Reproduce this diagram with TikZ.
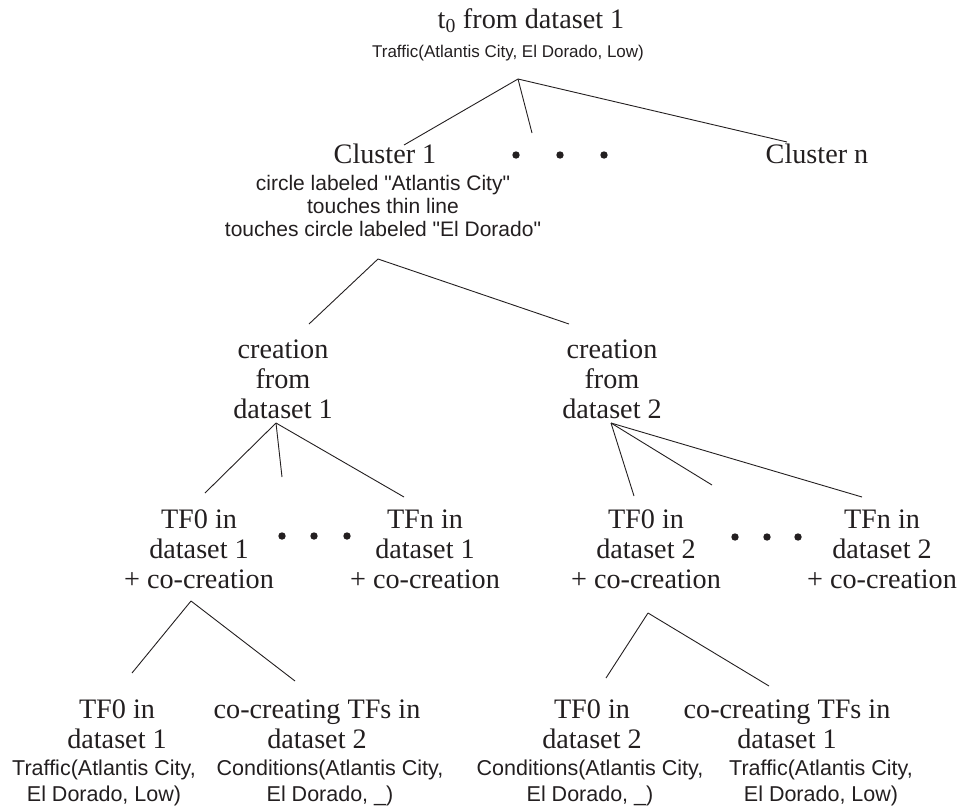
\documentclass[tikz,border=0pt]{standalone}
\usepackage{fontspec}
\setmainfont{Liberation Serif}
\setsansfont{Liberation Sans}
\usetikzlibrary{positioning}
\definecolor{InkGray}{RGB}{35,31,32}
\newcommand{\bigserif}{\fontsize{28.2}{29.7}\selectfont}
\newcommand{\qq}{\textquotedbl}
\newcommand{\treeline}[2]{%
  \draw[InkGray,line width=0.9pt] (#1)--(#2);}

\begin{document}
\begin{tikzpicture}[x=1pt,y=-1pt,
  serif text/.style={font=\bigserif,text=InkGray,align=center,inner sep=0pt,anchor=base},
  fact/.style 2 args={font=\fontsize{#1}{#2}\selectfont\sffamily,text=InkGray,align=center,inner sep=0pt,anchor=base},
  dot/.style={circle,fill=InkGray,inner sep=0pt,minimum size=7.4pt}]
  \useasboundingbox (0,0) rectangle (966,809);
  % root
  \node[serif text] (root) at (531,28) {t\textsubscript{0} from dataset 1};
  \node[fact={17}{20}] (rootfact) at (508,57) {Traffic(Atlantis City, El Dorado, Low)};
  % clusters
  \node[serif text] (cl1) at (385,163) {Cluster 1};
  \node[serif text] (cln) at (817,163) {Cluster n};
  \node[dot] (cd1) at (516,155) {};
  \node[dot] (cd2) at (560,155) {};
  \node[dot] (cd3) at (604,155) {};
  \node[fact={21}{23}] (cl1fact) at (383,236) {circle labeled \qq Atlantis City\qq\\touches thin line\\touches circle labeled \qq El Dorado\qq};
  % creation
  \node[serif text] (cr1) at (283,418) {creation\\from\\dataset 1};
  \node[serif text] (cr2) at (612,418) {creation\\from\\dataset 2};
  % TFs with co-creation
  \node[serif text] (tfa) at (199,588) {TF0 in\\dataset 1\\+ co-creation};
  \node[serif text] (tfb) at (425,588) {TFn in\\dataset 1\\+ co-creation};
  \node[serif text] (tfc) at (646,588) {TF0 in\\dataset 2\\+ co-creation};
  \node[serif text] (tfd) at (882,588) {TFn in\\dataset 2\\+ co-creation};
  \node[dot] (ad1) at (282,536) {};
  \node[dot] (ad2) at (314,536) {};
  \node[dot] (ad3) at (347,536) {};
  \node[dot] (bd1) at (735,537) {};
  \node[dot] (bd2) at (767,537) {};
  \node[dot] (bd3) at (798,537) {};
  % leaves
  \node[serif text] (lfa) at (117,748) {TF0 in\\dataset 1};
  \node[serif text] (lfb) at (317,748) {co-creating TFs in\\dataset 2};
  \node[serif text] (lfc) at (592,748) {TF0 in\\dataset 2};
  \node[serif text] (lfd) at (787,748) {co-creating TFs in\\dataset 1};
  \node[fact={21.5}{26}] (lfafact) at (104,801) {Traffic(Atlantis City,\\El Dorado, Low)};
  \node[fact={21.5}{26}] (lfbfact) at (330,801) {Conditions(Atlantis City,\\El Dorado, \_)};
  \node[fact={21.5}{26}] (lfcfact) at (590,801) {Conditions(Atlantis City,\\El Dorado, \_)};
  \node[fact={21.5}{26}] (lfdfact) at (821,801) {Traffic(Atlantis City,\\El Dorado, Low)};
  % branch points
  \coordinate (rootfork) at (518,79);
  \coordinate (toCl1) at (404,145);
  \coordinate (toClmid) at (532,133);
  \coordinate (toCln) at (787,142);
  \coordinate (cl1fork) at (378,259);
  \coordinate (toCr1) at (309,324);
  \coordinate (toCr2) at (569,324);
  \coordinate (cr1fork) at (276,423);
  \coordinate (toTfa) at (205,493);
  \coordinate (toAmid) at (282,477);
  \coordinate (toTfb) at (404,497);
  \coordinate (cr2fork) at (611,423);
  \coordinate (toTfc) at (634,496);
  \coordinate (toCmid) at (712,485);
  \coordinate (toTfd) at (862,497);
  \coordinate (tfafork) at (191,601);
  \coordinate (toLfa) at (132,673);
  \coordinate (toLfb) at (295,681);
  \coordinate (tfcfork) at (648,613);
  \coordinate (toLfc) at (606,678);
  \coordinate (toLfd) at (769,686);
  % branches
  \treeline{rootfork}{toCl1}
  \treeline{rootfork}{toClmid}
  \treeline{rootfork}{toCln}
  \treeline{cl1fork}{toCr1}
  \treeline{cl1fork}{toCr2}
  \treeline{cr1fork}{toTfa}
  \treeline{cr1fork}{toAmid}
  \treeline{cr1fork}{toTfb}
  \treeline{cr2fork}{toTfc}
  \treeline{cr2fork}{toCmid}
  \treeline{cr2fork}{toTfd}
  \treeline{tfafork}{toLfa}
  \treeline{tfafork}{toLfb}
  \treeline{tfcfork}{toLfc}
  \treeline{tfcfork}{toLfd}
\end{tikzpicture}
\end{document}
